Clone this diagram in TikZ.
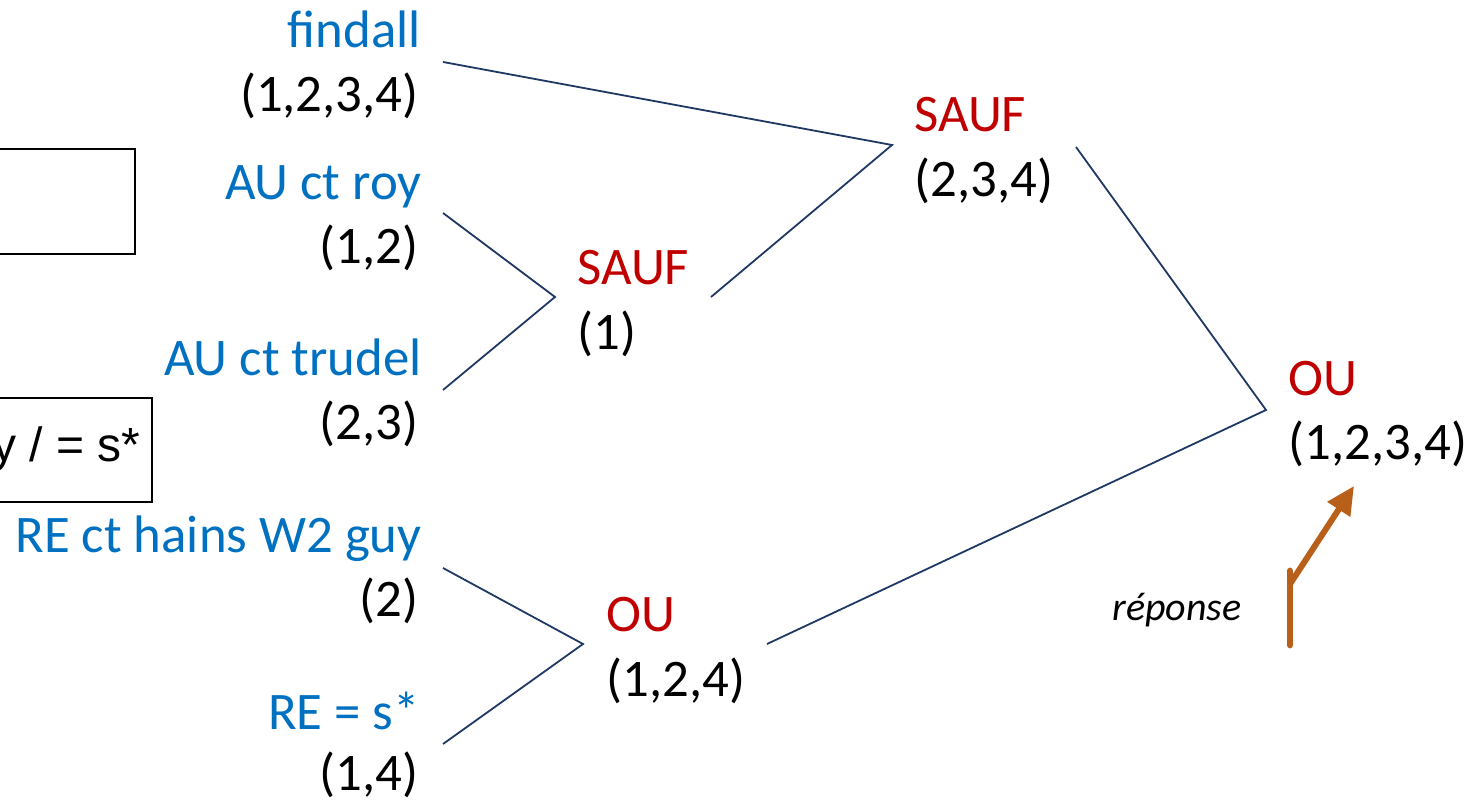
\documentclass[tikz,border=0pt]{standalone}
\usepackage{fontspec}
\usetikzlibrary{arrows.meta}
\setmainfont{Carlito}
\newfontfamily\arialfont{Liberation Sans}
\definecolor{lblue}{HTML}{0070C0}
\definecolor{lred}{HTML}{C00000}
\definecolor{lnavy}{HTML}{1F3864}
\definecolor{lorange}{HTML}{B8601A}
\begin{document}
\begin{tikzpicture}[x=0.5pt,y=-0.5pt,
  lbl/.style={inner sep=0pt,font=\fontsize{26.4}{30}\selectfont},
  leaf/.style={lbl,anchor=base east,text=lblue},
  leafset/.style={lbl,anchor=base east,text=black},
  op/.style={lbl,anchor=base west,text=lred},
  opset/.style={lbl,anchor=base west,text=black},
  conn/.style={draw=lnavy,line width=0.9pt},
  frame/.style={draw=black,line width=1pt}]
\useasboundingbox (0,0) rectangle (1483,801);
\clip (0,0) rectangle (1483,801);
% boxes
\draw[frame] (-10,149) rectangle (135,254);
\draw[frame] (-10,398) rectangle (152,502);
\node[anchor=base east,inner sep=0pt,font=\arialfont\fontsize{24}{28}\selectfont] (boxtxt) at (141,462) {y / = s*};
% leaves
\node[leaf] (l1) at (421,48) {findall};
\node[leafset] (s1) at (419,112) {(1,2,3,4)};
\node[leaf] (l2) at (422,200) {AU ct roy};
\node[leafset] (s2) at (419,264) {(1,2)};
\node[leaf] (l3) at (422,376) {AU ct trudel};
\node[leafset] (s3) at (419,440) {(2,3)};
\node[leaf] (l4) at (422,553) {RE ct hains W2 guy};
\node[leafset] (s4) at (419,617) {(2)};
\node[leaf] (l5) at (420,729) {RE = s*};
\node[leafset] (s5) at (419,790) {(1,4)};
% operators
\node[op] (o1) at (577,285) {SAUF};
\node[opset] (os1) at (577,350) {(1)};
\node[op] (o2) at (914,132) {SAUF};
\node[opset] (os2) at (914,197) {(2,3,4)};
\node[op] (o3) at (606,632) {OU};
\node[opset] (os3) at (606,697) {(1,2,4)};
\node[op] (o4) at (1288,396) {OU};
\node[opset] (os4) at (1288,460) {(1,2,3,4)};
\node[inner sep=0pt,anchor=base west,font=\fontsize{20}{24}\selectfont\itshape] (rep) at (1112,620) {réponse};
% connection points
\coordinate (a1) at (443,62);
\coordinate (a2) at (443,213);
\coordinate (a3) at (443,390);
\coordinate (a4) at (443,568);
\coordinate (a5) at (443,744);
\coordinate (j1) at (555,297);
\coordinate (k1) at (711,297);
\coordinate (j2) at (892,145);
\coordinate (k2) at (1076,147);
\coordinate (j3) at (583,644);
\coordinate (k3) at (767,644);
\coordinate (j4) at (1266,410);
\draw[conn] (a1) -- (j2) -- (k1);
\draw[conn] (a2) -- (j1) -- (a3);
\draw[conn] (a4) -- (j3) -- (a5);
\draw[conn] (k2) -- (j4) -- (k3);
% answer arrow
\coordinate (r0) at (1290,645);
\coordinate (r1) at (1290,571);
\coordinate (r2) at (1290,584);
\coordinate (r3) at (1354,486);
\draw[draw=lorange,line width=3.4pt,line cap=round] (r0) -- (r1);
\draw[draw=lorange,fill=lorange,line width=3pt,-{Triangle[length=14pt,width=13pt]}] (r2) -- (r3);
\end{tikzpicture}
\end{document}
